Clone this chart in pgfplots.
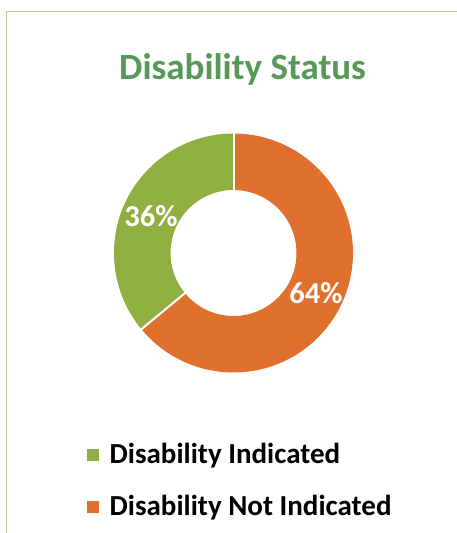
\documentclass[border=0pt]{standalone}
\usepackage{pgfplots}
\usepackage{pgfplotstable}
\pgfplotsset{compat=1.18}
\usepackage{fontspec}
\setmainfont{Carlito}
\definecolor{gr}{HTML}{8FB040}
\definecolor{orr}{HTML}{E0702D}
\definecolor{ttl}{HTML}{579A57}
\definecolor{frame}{HTML}{C9C29C}

\pgfplotstableread{
label value
{Disability Indicated} 36
{Disability Not Indicated} 64
}\data

\begin{document}
\begin{tikzpicture}
\useasboundingbox (0,0) rectangle (457bp,533bp);
\fill[white] (0,0) rectangle (457bp,533bp);
\draw[frame, line width=1.4bp] (457bp,521.5bp) -- (6.5bp,521.5bp) -- (6.5bp,0bp);
\node[anchor=base, text=ttl, font=\fontsize{37bp}{44bp}\selectfont\bfseries] at (242.5bp,453bp) {Disability Status};

\pgfplotstablegetelem{0}{value}\of\data
\pgfmathsetmacro\vG{\pgfplotsretval}
\pgfplotstablegetelem{1}{value}\of\data
\pgfmathsetmacro\vO{\pgfplotsretval}
\pgfmathsetmacro\aS{90}
\pgfmathsetmacro\aM{90+3.6*\vG}
\pgfmathsetmacro\aE{\aM+3.6*\vO}
\pgfmathsetmacro\mG{(\aS+\aM)/2}
\pgfmathsetmacro\mO{(\aM+\aE)/2}
\pgfmathsetmacro\rm{91.25}
\pgfmathsetmacro\lGx{\rm*cos(\mG)}
\pgfmathsetmacro\lGy{\rm*sin(\mG)-1.5}
\pgfmathsetmacro\lOx{\rm*cos(\mO)}
\pgfmathsetmacro\lOy{\rm*sin(\mO)-1.5}
\pgfmathsetmacro\sAx{cos(\aS)}
\pgfmathsetmacro\sAy{sin(\aS)}
\pgfmathsetmacro\sBx{cos(\aM)}
\pgfmathsetmacro\sBy{sin(\aM)}

\begin{axis}[
  at={(233.5bp,280bp)}, anchor=center,
  scale only axis, width=240bp, height=240bp,
  xmin=-120, xmax=120, ymin=-120, ymax=120,
  hide axis, clip=false,
  legend style={draw=none, fill=none, at={(-0.11,-0.285)}, anchor=north west,
    font=\fontsize{29bp}{34bp}\selectfont\bfseries,
    row sep=26bp, inner sep=0pt, cells={anchor=west}},
  legend cell align=left,
]
\addplot[gr, line width=56.5bp, domain=\aS:\aM, samples=120, forget plot] ({\rm*cos(x)},{\rm*sin(x)});
\addplot[orr, line width=56.5bp, domain=\aM:\aE, samples=200, forget plot] ({\rm*cos(x)},{\rm*sin(x)});
\addplot[white, line width=2bp, forget plot] coordinates {({61*\sAx},{61*\sAy}) ({122*\sAx},{122*\sAy})};
\addplot[white, line width=2bp, forget plot] coordinates {({61*\sBx},{61*\sBy}) ({122*\sBx},{122*\sBy})};
\node[text=white, font=\fontsize{30.5bp}{36bp}\selectfont\bfseries, inner sep=0pt] at (\lGx,\lGy) {36\%};
\node[text=white, font=\fontsize{30.5bp}{36bp}\selectfont\bfseries, inner sep=0pt] at (\lOx,\lOy) {64\%};
\addlegendimage{legend image code/.code={\fill[gr] (0bp,-5.5bp) rectangle (11bp,5.5bp);}}
\addlegendentry{\hspace*{9bp}Disability Indicated}
\addlegendimage{legend image code/.code={\fill[orr] (0bp,-5.5bp) rectangle (11bp,5.5bp);}}
\addlegendentry{\hspace*{9bp}Disability Not Indicated}
\end{axis}
\end{tikzpicture}
\end{document}
